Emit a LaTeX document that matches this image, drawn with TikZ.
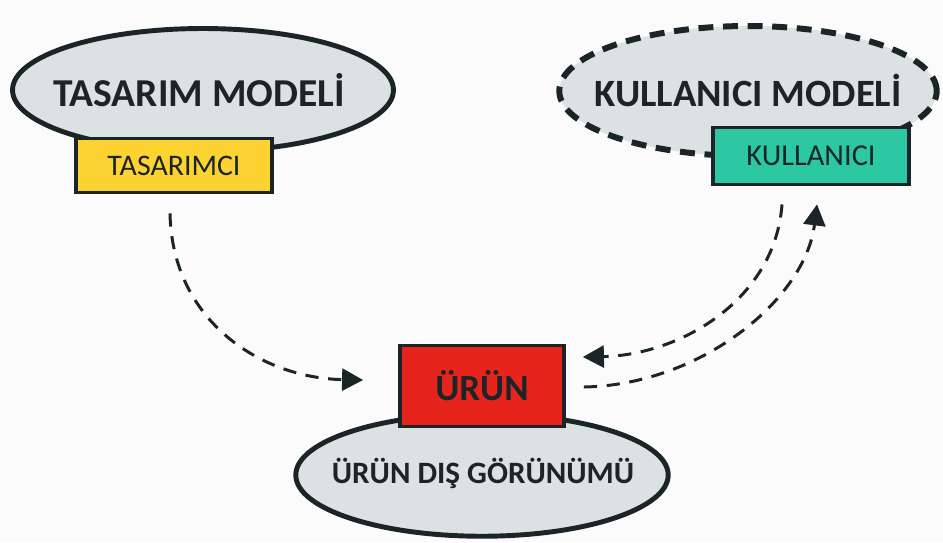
\documentclass[tikz,border=0pt]{standalone}
\usepackage{fontspec}
\setmainfont{Carlito}
\usetikzlibrary{shapes.geometric,arrows.meta,calc}
\definecolor{bg}{HTML}{FBFBFB}
\definecolor{ink}{HTML}{1B2427}
\definecolor{ellfill}{HTML}{DCE2E2}
\definecolor{yel}{HTML}{FDD332}
\definecolor{tea}{HTML}{2CC8A4}
\definecolor{rd}{HTML}{E6241C}
\tikzset{
  ell/.style={ellipse, draw=ink, fill=ellfill, line width=2.8pt, inner sep=0pt},
  elldash/.style={ellipse, draw=ink, fill=ellfill, line width=3.4pt, dash pattern=on 8.5pt off 5.5pt, inner sep=0pt},
  box/.style={rectangle, draw=ink, line width=2.2pt, inner sep=0pt, text=ink},
  lbl/.style={text=ink, inner sep=0pt},
  arr/.style={draw=ink, line width=1.7pt, dash pattern=on 7.5pt off 5.5pt, -{Triangle[length=0.42cm,width=0.44cm]}},
  bigtxt/.style={font=\fontsize{22.5pt}{24pt}\selectfont\bfseries},
  smtxt/.style={font=\fontsize{17pt}{19pt}\selectfont}
}
\begin{document}
\begin{tikzpicture}[x=0.02cm,y=-0.02cm]
\fill[bg] (0,0) rectangle (943,542);
\useasboundingbox (0,0) rectangle (943,542);
% top-left
\node[ell, minimum width=7.62cm, minimum height=2.46cm] (tm) at (203,90) {};
\node[lbl, bigtxt] (tmt) at (199,90) {TASARIM MODELİ};
\node[box, fill=yel, minimum width=3.92cm, minimum height=1.08cm, smtxt] (tc) at (174,165.5) {TASARIMCI};
% top-right
\node[elldash, minimum width=7.55cm, minimum height=2.6cm] (km) at (748,91) {};
\node[lbl, font=\fontsize{22pt}{24pt}\selectfont\bfseries] (kmt) at (748,90) {KULLANICI MODELİ};
\node[box, fill=tea, minimum width=3.92cm, minimum height=1.14cm, font=\fontsize{17.3pt}{19pt}\selectfont] (kl) at (811,156) {KULLANICI};
% bottom
\node[ell, minimum width=7.45cm, minimum height=2.45cm] (ud) at (482,475) {};
\node[lbl, font=\fontsize{17.7pt}{20pt}\selectfont\bfseries] (udt) at (483,473) {ÜRÜN DIŞ GÖRÜNÜMÜ};
\node[box, fill=rd, minimum width=3.28cm, minimum height=1.62cm, font=\fontsize{21pt}{23pt}\selectfont\bfseries] (ur) at (482,386) {ÜRÜN};
% connectors
\draw[arr] ($(tc.south)+(-4,19)$) .. controls (172,320) and (260,378) .. ($(ur.west)+(-35,-6)$);
\draw[arr] ($(kl.south)+(-29,18)$) .. controls (775,300) and (680,355) .. ($(ur.east)+(17,-29)$);
\draw[arr] ($(ur.east)+(18,1)$) .. controls (700,385) and (805,300) .. ($(kl.south)+(6,18)$);
\end{tikzpicture}
\end{document}
